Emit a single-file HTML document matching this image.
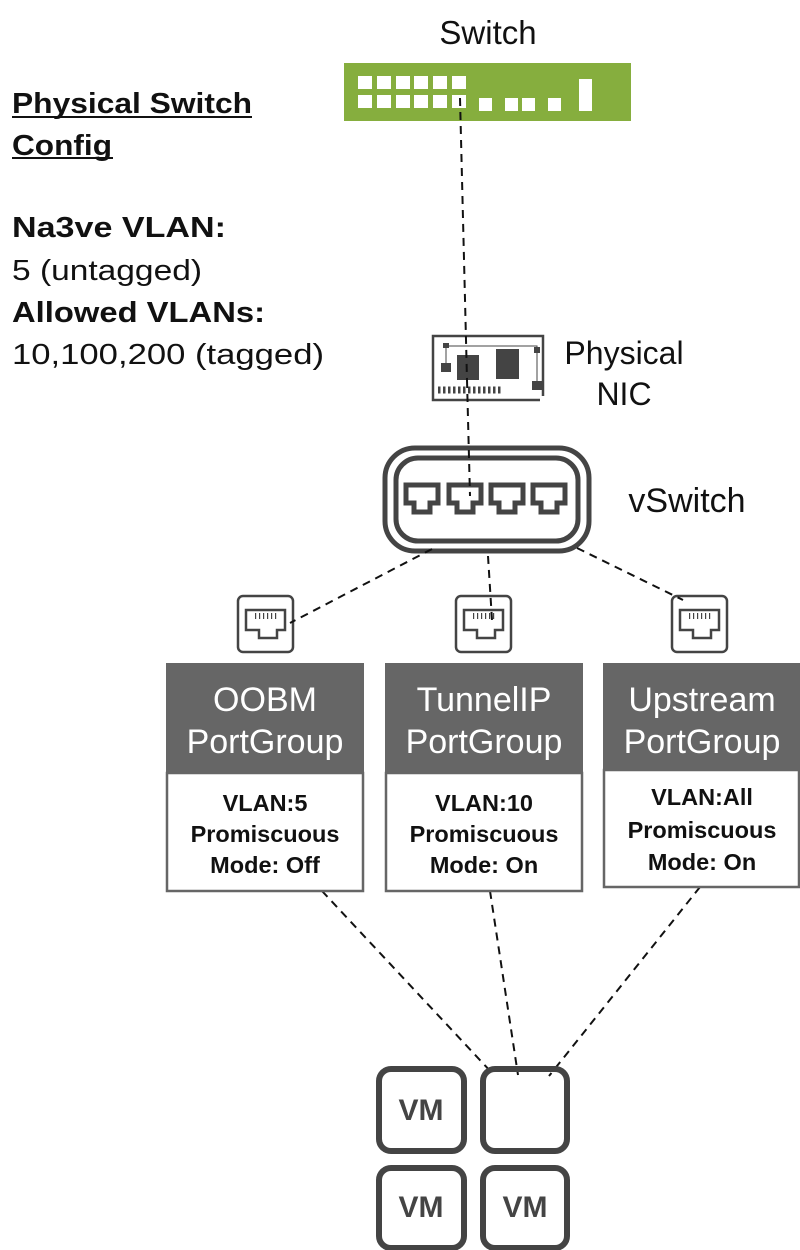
<!DOCTYPE html>
<html><head><meta charset="utf-8"><style>
html,body{margin:0;padding:0;background:#fff;}
svg{display:block;}
text{font-family:"Liberation Sans",sans-serif;}
</style></head><body>
<svg width="800" height="1250" viewBox="0 0 800 1250" xmlns="http://www.w3.org/2000/svg">
<!-- Switch -->
<text x="488" y="44" font-size="33" text-anchor="middle" fill="#111">Switch</text>
<rect x="344" y="63" width="287" height="58" fill="#86ae3e"/>
<g fill="#fff">
<rect x="358" y="76" width="14" height="13"/><rect x="377" y="76" width="14" height="13"/><rect x="396" y="76" width="14" height="13"/><rect x="414" y="76" width="14" height="13"/><rect x="433" y="76" width="14" height="13"/><rect x="452" y="76" width="14" height="13"/>
<rect x="358" y="95" width="14" height="13"/><rect x="377" y="95" width="14" height="13"/><rect x="396" y="95" width="14" height="13"/><rect x="414" y="95" width="14" height="13"/><rect x="433" y="95" width="14" height="13"/><rect x="452" y="95" width="14" height="13"/>
<rect x="479" y="98" width="13" height="13"/><rect x="505" y="98" width="13" height="13"/><rect x="522" y="98" width="13" height="13"/><rect x="548" y="98" width="13" height="13"/>
<rect x="579" y="79" width="13" height="32"/>
</g>
<!-- left text -->
<g fill="#111" font-size="29">
<text x="12" y="113" font-weight="bold" textLength="240" lengthAdjust="spacingAndGlyphs">Physical Switch</text>
<rect x="12" y="116" width="240" height="2"/>
<text x="12" y="155" font-weight="bold" textLength="100" lengthAdjust="spacingAndGlyphs">Config</text>
<rect x="12" y="157" width="101" height="2"/>
<text x="12" y="237" font-weight="bold" textLength="214" lengthAdjust="spacingAndGlyphs">Na3ve VLAN:</text>
<text x="12" y="280" textLength="190" lengthAdjust="spacingAndGlyphs">5 (untagged)</text>
<text x="12" y="322" font-weight="bold" textLength="253" lengthAdjust="spacingAndGlyphs">Allowed VLANs:</text>
<text x="12" y="364" textLength="312" lengthAdjust="spacingAndGlyphs">10,100,200 (tagged)</text>
</g>
<!-- NIC -->
<g fill="#444" stroke="none">
<rect x="433" y="336" width="110" height="64" fill="none" stroke="#444" stroke-width="2.5"/>
<rect x="443" y="343" width="6" height="5"/><rect x="441" y="363" width="10" height="9"/>
<rect x="457" y="355" width="22" height="25"/>
<rect x="496" y="349" width="23" height="30"/>
<rect x="534" y="347" width="6" height="6"/><rect x="532" y="381" width="12" height="9"/>
<rect x="540" y="396" width="6" height="8" fill="#fff"/>
</g>
<path d="M446 346 H537 V385 M446 346 V367" fill="none" stroke="#444" stroke-width="1"/>
<line x1="438" y1="390" x2="503" y2="390" stroke="#444" stroke-dasharray="2.5 2.5" stroke-width="7"/>
<text x="624" y="364" font-size="32" text-anchor="middle" fill="#111">Physical</text>
<text x="624" y="405" font-size="32" text-anchor="middle" fill="#111">NIC</text>
<!-- vSwitch -->
<rect x="385" y="448" width="204" height="103" rx="30" fill="none" stroke="#444" stroke-width="5"/>
<rect x="396" y="458" width="182" height="83" rx="22" fill="none" stroke="#444" stroke-width="5"/>
<g fill="none" stroke="#444" stroke-width="5">
<path d="M406 485 H438 V503 H430 V512 H414 V503 H406 Z"/>
<path d="M449 485 H481 V503 H473 V512 H457 V503 H449 Z"/>
<path d="M491 485 H523 V503 H515 V512 H499 V503 H491 Z"/>
<path d="M533 485 H565 V503 H557 V512 H541 V503 H533 Z"/>
</g>
<text x="687" y="512" font-size="34" text-anchor="middle" fill="#111">vSwitch</text>
<!-- small port icons -->
<g fill="none" stroke="#444" stroke-width="2.5">
<rect x="238" y="596" width="55" height="56" rx="5"/>
<path d="M246 610 H285 V630 H277 V638 H259 V630 H246 Z"/>
<rect x="456" y="596" width="55" height="56" rx="5"/>
<path d="M464 610 H503 V630 H495 V638 H477 V630 H464 Z"/>
<rect x="672" y="596" width="55" height="56" rx="5"/>
<path d="M680 610 H719 V630 H711 V638 H693 V630 H680 Z"/>
</g>
<g stroke="#444" stroke-width="6" stroke-dasharray="1.2 2.8">
<line x1="255" y1="616" x2="278" y2="616"/><line x1="473" y1="616" x2="496" y2="616"/><line x1="689" y1="616" x2="712" y2="616"/>
</g>
<!-- dashed connectors -->
<g stroke="#111" stroke-width="2" stroke-dasharray="8 6" fill="none">
<line x1="460" y1="98" x2="467" y2="380"/>
<line x1="467" y1="380" x2="470" y2="496"/>
<line x1="432" y1="549" x2="290" y2="623"/>
<line x1="488" y1="556" x2="492" y2="620"/>
<line x1="577" y1="548" x2="683" y2="600"/>
<line x1="322" y1="891" x2="493" y2="1074"/>
<line x1="490" y1="891" x2="518" y2="1075"/>
<line x1="700" y1="887" x2="549" y2="1076"/>
</g>
<!-- Port groups -->
<g>
<rect x="166" y="663" width="198" height="110" fill="#666"/>
<rect x="167" y="773" width="196" height="118" fill="#fff" stroke="#666" stroke-width="2.5"/>
<rect x="385" y="663" width="198" height="110" fill="#666"/>
<rect x="386" y="773" width="196" height="118" fill="#fff" stroke="#666" stroke-width="2.5"/>
<rect x="603" y="663" width="197" height="107" fill="#666"/>
<rect x="604" y="770" width="195" height="117" fill="#fff" stroke="#666" stroke-width="2.5"/>
</g>
<g fill="#fff" font-size="34" text-anchor="middle">
<text x="265" y="711">OOBM</text><text x="265" y="753">PortGroup</text>
<text x="484" y="711">TunnelIP</text><text x="484" y="753">PortGroup</text>
<text x="702" y="711">Upstream</text><text x="702" y="753">PortGroup</text>
</g>
<g fill="#111" font-size="23.5" font-weight="bold" text-anchor="middle">
<text x="265" y="811">VLAN:5</text><text x="265" y="842">Promiscuous</text><text x="265" y="873">Mode: Off</text>
<text x="484" y="811">VLAN:10</text><text x="484" y="842">Promiscuous</text><text x="484" y="873">Mode: On</text>
<text x="702" y="805">VLAN:All</text><text x="702" y="838">Promiscuous</text><text x="702" y="870">Mode: On</text>
</g>
<!-- VMs -->
<g fill="none" stroke="#444" stroke-width="6">
<rect x="379" y="1069" width="85" height="82" rx="12"/>
<rect x="483" y="1069" width="84" height="82" rx="12"/>
<rect x="379" y="1168" width="85" height="80" rx="12"/>
<rect x="483" y="1168" width="84" height="80" rx="12"/>
</g>
<g fill="#444" font-size="30" font-weight="bold" text-anchor="middle">
<text x="421" y="1120">VM</text><text x="421" y="1217">VM</text><text x="525" y="1217">VM</text>
</g>
</svg>
</body></html>
